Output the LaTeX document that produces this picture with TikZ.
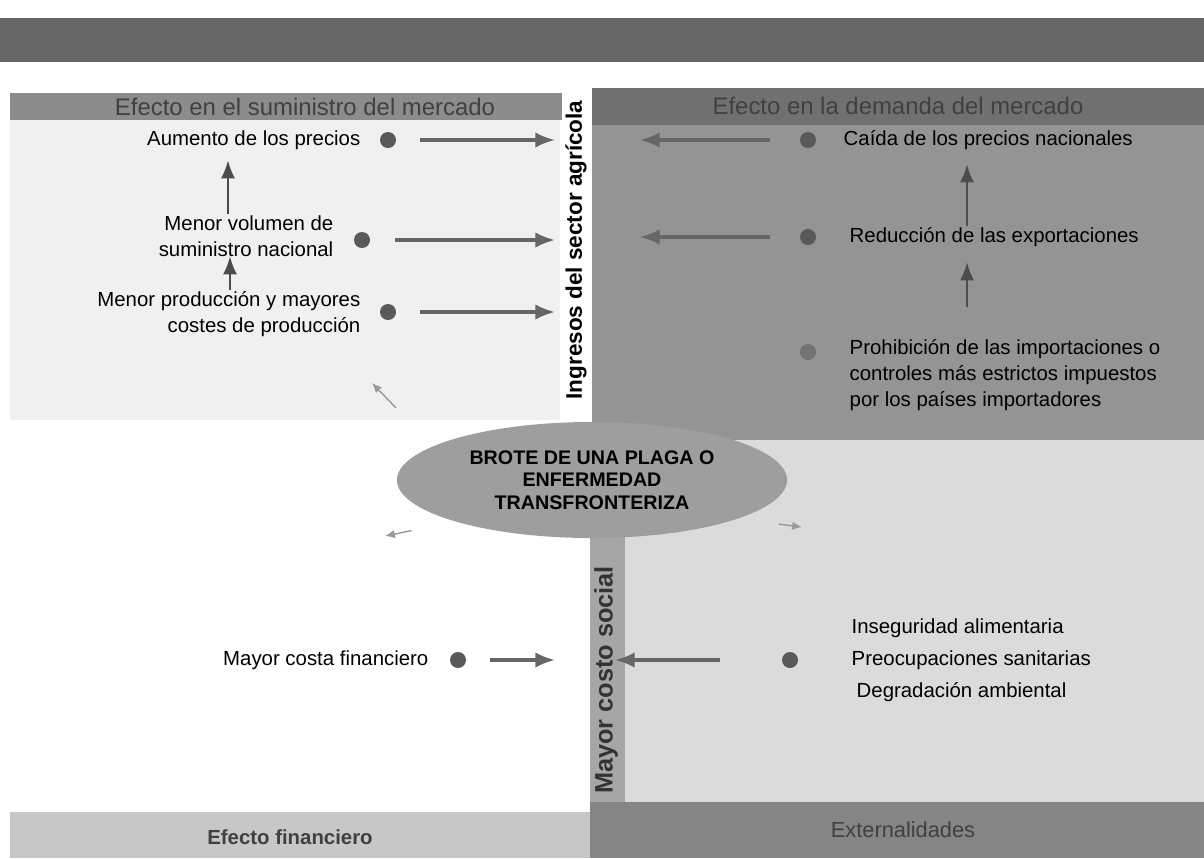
\documentclass[tikz,border=0pt]{standalone}
\usepackage{fontspec}
\setmainfont{Liberation Sans}
\usetikzlibrary{arrows.meta,shapes.geometric}

\tikzset{
  item/.style={font=\fontsize{14.5}{18.5}\selectfont, inner sep=1pt},
  head/.style={font=\fontsize{17}{20}\selectfont, text=black!75},
  dot/.style={circle, fill=black!65, minimum size=0.4cm, inner sep=0pt},
  flow/.style={line width=2.2pt, black!60, -{Latex[length=14pt,width=11pt]}},
  upflow/.style={line width=2pt, black!70, -{Latex[length=13pt,width=10pt]}},
  spread/.style={line width=1pt, black!40, -{Latex[length=7pt,width=6pt]}},
  sidelabel/.style={rotate=90, font=\fontsize{16}{19}\bfseries\selectfont}
}

\begin{document}
\begin{tikzpicture}[x=0.025cm, y=-0.025cm]
  \useasboundingbox (0,0) rectangle (1204,858);

  % bands and panels
  \fill[black!60] (0,18) rectangle (1204,62);
  \fill[black!6] (10,120) rectangle (560,420);
  \fill[black!45] (10,93) rectangle (588,120);
  \fill[black!42] (592,88) rectangle (1204,440);
  \fill[black!56] (592,88) rectangle (1204,125);
  \fill[black!14] (625,440) rectangle (1204,805);
  \fill[black!35] (590,520) rectangle (625,812);
  \fill[black!22] (10,812) rectangle (590,858);
  \fill[black!48] (590,802) rectangle (1204,858);

  \node[head] (hsum) at (305,107) {Efecto en el suministro del mercado};
  \node[head] (hdem) at (898,106) {Efecto en la demanda del mercado};
  \node[head, font=\fontsize{14.5}{17}\bfseries\selectfont] (hfin) at (290,837) {Efecto financiero};
  \node[head, font=\fontsize{15.5}{18}\selectfont] (hext) at (903,830) {Externalidades};

  \node[sidelabel, fill=white, minimum width=8cm, minimum height=0.72cm, inner sep=1pt] (ingresos) at (576,250) {Ingresos del sector agrícola};
  \node[sidelabel, text=black!80, font=\fontsize{18}{21}\bfseries\selectfont] (social) at (606,680) {Mayor costo social};

  % oferta
  \node[item, anchor=east, align=right] (precios) at (362,140) {Aumento de los precios};
  \node[item, anchor=east, align=right] (volumen) at (335,236) {Menor volumen de\\suministro nacional};
  \node[item, anchor=east, align=right] (produccion) at (362,314) {Menor producción y mayores\\costes de producción};
  \node[dot] (d1) at (388,140) {};
  \node[dot] (d2) at (362,240) {};
  \node[dot] (d3) at (388,312) {};
  \coordinate (s1) at (420,140);
  \coordinate (s2) at (395,240);
  \coordinate (s3) at (420,312);
  \coordinate (e1) at (555,140);
  \coordinate (e2) at (555,240);
  \coordinate (e3) at (555,312);
  \draw[flow] (s1) -- (e1);
  \draw[flow] (s2) -- (e2);
  \draw[flow] (s3) -- (e3);
  \coordinate (u1) at (228,160);
  \draw[upflow] (u1 |- volumen.north) -- (u1);
  \coordinate (u2) at (230,256);
  \draw[upflow] (u2 |- produccion.north) -- (u2);

  % demanda
  \node[item, anchor=west, align=left] (caida) at (842,140) {Caída de los precios nacionales};
  \node[item, anchor=west, align=left] (reduccion) at (848,237) {Reducción de las exportaciones};
  \node[item, anchor=north west, align=left] (prohibicion) at (848,338) {Prohibición de las importaciones o\\controles más estrictos impuestos\\por los países importadores};
  \node[dot] (d4) at (808,140) {};
  \node[dot] (d5) at (808,237) {};
  \node[dot, fill=black!55] (d6) at (808,352) {};
  \coordinate (s4) at (770,140);
  \coordinate (s5) at (770,237);
  \coordinate (e4) at (640,140);
  \coordinate (e5) at (640,237);
  \draw[flow] (s4) -- (e4);
  \draw[flow] (s5) -- (e5);
  \coordinate (u3) at (967,164);
  \draw[upflow] (u3 |- reduccion.north) -- (u3);
  \coordinate (u4) at (967,262);
  \draw[upflow, shorten <=22pt] (u4 |- prohibicion.north) -- (u4);

  % brote
  \node[ellipse, fill=black!38, minimum width=9.75cm, minimum height=2.9cm, align=center,
        font=\fontsize{14}{16}\bfseries\selectfont] (brote) at (592,480)
        {BROTE DE UNA PLAGA O\\ENFERMEDAD\\TRANSFRONTERIZA};
  \coordinate (t1) at (372,383);
  \coordinate (t2) at (385,536);
  \coordinate (t3) at (802,527);
  \draw[spread, shorten <=38pt] (brote.168) -- (t1);
  \draw[spread, shorten <=32pt] (brote.197) -- (t2);
  \draw[spread, shorten <=30pt] (brote.-15) -- (t3);

  % financiero
  \node[item, anchor=east] (costo) at (430,660) {Mayor costa financiero};
  \node[dot] (d7) at (458,660) {};
  \coordinate (s7) at (490,660);
  \coordinate (e7) at (555,660);
  \draw[flow] (s7) -- (e7);

  % externalidades
  \node[item, anchor=west] (inseg) at (850,628) {Inseguridad alimentaria};
  \node[item, anchor=west] (preoc) at (850,660) {Preocupaciones sanitarias};
  \node[item, anchor=west] (degrad) at (855,692) {Degradación ambiental};
  \node[dot] (d8) at (790,660) {};
  \coordinate (s8) at (720,660);
  \coordinate (e8) at (615,660);
  \draw[flow] (s8) -- (e8);
\end{tikzpicture}
\end{document}
